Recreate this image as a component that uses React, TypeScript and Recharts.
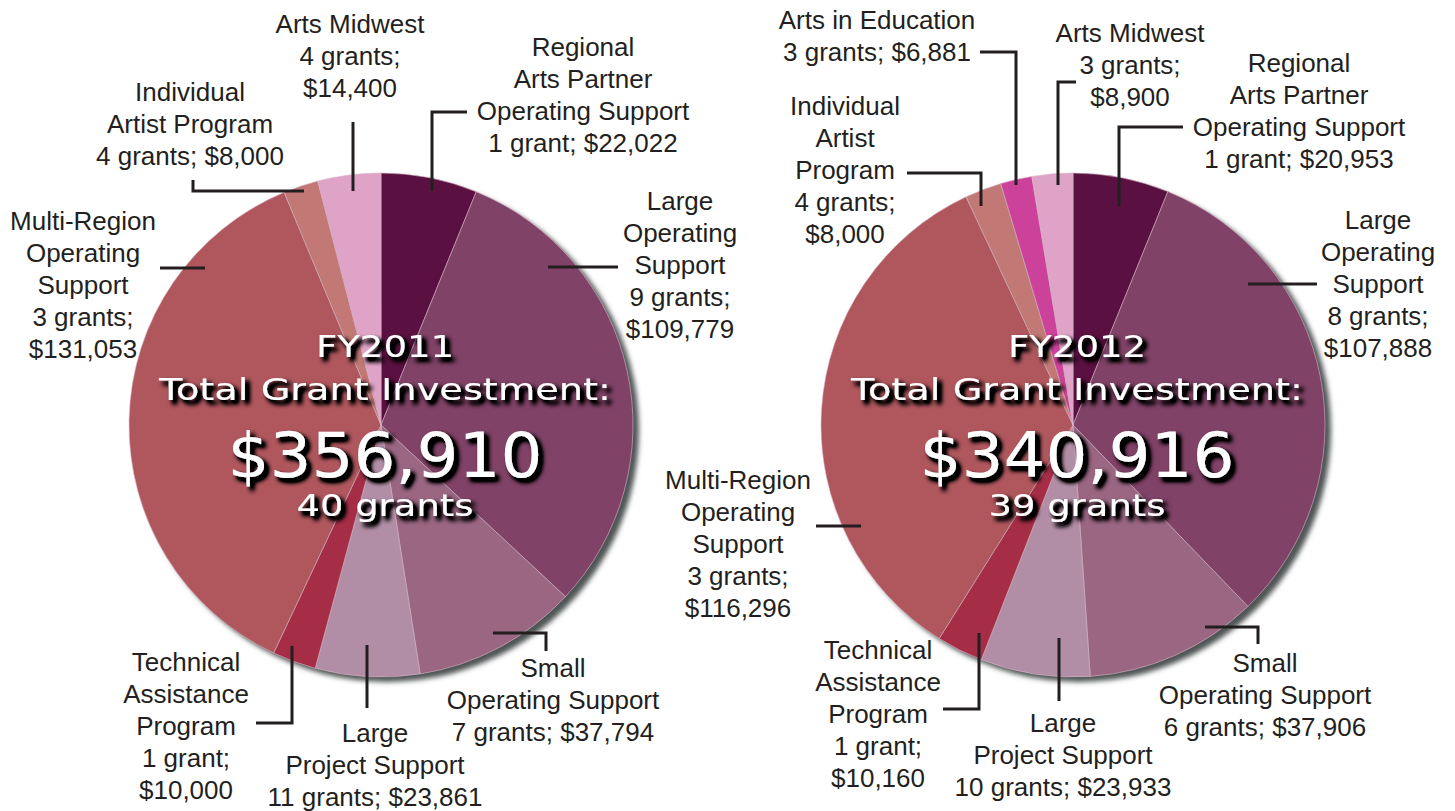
import React from 'react';
import { PieChart, Pie, Cell } from 'recharts';

// grant categories, clockwise from 12 o'clock
const categories2011 = [
  'Regional Arts Partner Operating Support',
  'Large Operating Support',
  'Small Operating Support',
  'Large Project Support',
  'Technical Assistance Program',
  'Multi-Region Operating Support',
  'Individual Artist Program',
  'Arts Midwest',
];
const grants2011 = [1, 9, 7, 11, 1, 3, 4, 4];
const amounts2011 = [22022, 109779, 37794, 23861, 10000, 131053, 8000, 14400];

const categories2012 = [
  'Regional Arts Partner Operating Support',
  'Large Operating Support',
  'Small Operating Support',
  'Large Project Support',
  'Technical Assistance Program',
  'Multi-Region Operating Support',
  'Individual Artist Program',
  'Arts in Education',
  'Arts Midwest',
];
const grants2012 = [1, 8, 6, 10, 1, 3, 4, 3, 3];
const amounts2012 = [20953, 107888, 37906, 23933, 10160, 116296, 8000, 6881, 8900];

const fiscalYears = ['FY2011', 'FY2012'];
const totalInvestment = [356910, 340916];
const totalGrants = [40, 39];

const COLORS: Record<string, string> = {
  'Regional Arts Partner Operating Support': '#5a1040',
  'Large Operating Support': '#804266',
  'Small Operating Support': '#9a6682',
  'Large Project Support': '#b28ea6',
  'Technical Assistance Program': '#a52d46',
  'Multi-Region Operating Support': '#b0575d',
  'Individual Artist Program': '#c27874',
  'Arts in Education': '#cc4199',
  'Arts Midwest': '#e0a3c8',
};

const W = 1455;
const H = 811;
const RADIUS = 252;
const CENTERS = [
  { cx: 381, cy: 425 },
  { cx: 1073, cy: 425 },
];

type LabelLayout = {
  lines: string[];
  split: boolean; // grants and amount on separate lines
  tx: number; // label centre x, relative to pie centre
  ty: number; // first line centre y, relative to pie centre
  path: [number, number][]; // leader line, relative to pie centre
};

const layout2011: Record<string, LabelLayout> = {
  'Regional Arts Partner Operating Support': {
    lines: ['Regional', 'Arts Partner', 'Operating Support'], split: false, tx: 202, ty: -378,
    path: [[86, -313], [51, -313], [51, -234]],
  },
  'Large Operating Support': {
    lines: ['Large', 'Operating', 'Support'], split: true, tx: 299, ty: -224,
    path: [[167, -158], [237, -158]],
  },
  'Small Operating Support': {
    lines: ['Small', 'Operating Support'], split: false, tx: 172, ty: 243,
    path: [[112, 208], [165, 208], [165, 226]],
  },
  'Large Project Support': {
    lines: ['Large', 'Project Support'], split: false, tx: -6, ty: 308,
    path: [[-14, 220], [-14, 283]],
  },
  'Technical Assistance Program': {
    lines: ['Technical', 'Assistance', 'Program'], split: true, tx: -195, ty: 237,
    path: [[-89, 221], [-89, 298], [-125, 298]],
  },
  'Multi-Region Operating Support': {
    lines: ['Multi-Region', 'Operating', 'Support'], split: true, tx: -298, ty: -204,
    path: [[-221, -157], [-176, -157]],
  },
  'Individual Artist Program': {
    lines: ['Individual', 'Artist Program'], split: false, tx: -191, ty: -333,
    path: [[-188, -245], [-188, -234], [-77, -234]],
  },
  'Arts Midwest': {
    lines: ['Arts Midwest'], split: true, tx: -31, ty: -401,
    path: [[-28, -303], [-28, -234]],
  },
};

const layout2012: Record<string, LabelLayout> = {
  'Regional Arts Partner Operating Support': {
    lines: ['Regional', 'Arts Partner', 'Operating Support'], split: false, tx: 226, ty: -362,
    path: [[110, -298], [46, -298], [46, -219]],
  },
  'Large Operating Support': {
    lines: ['Large', 'Operating', 'Support'], split: true, tx: 305, ty: -205,
    path: [[175, -141], [244, -141]],
  },
  'Small Operating Support': {
    lines: ['Small', 'Operating Support'], split: false, tx: 192, ty: 238,
    path: [[132, 202], [185, 202], [185, 219]],
  },
  'Large Project Support': {
    lines: ['Large', 'Project Support'], split: false, tx: -10, ty: 298,
    path: [[-14, 213], [-14, 276]],
  },
  'Technical Assistance Program': {
    lines: ['Technical', 'Assistance', 'Program'], split: true, tx: -195, ty: 225,
    path: [[-94, 208], [-94, 284], [-130, 284]],
  },
  'Multi-Region Operating Support': {
    lines: ['Multi-Region', 'Operating', 'Support'], split: true, tx: -335, ty: 55,
    path: [[-257, 101], [-212, 101]],
  },
  'Individual Artist Program': {
    lines: ['Individual', 'Artist', 'Program'], split: true, tx: -228, ty: -319,
    path: [[-166, -252], [-92, -252], [-92, -219]],
  },
  'Arts in Education': {
    lines: ['Arts in Education'], split: false, tx: -196, ty: -405,
    path: [[-93, -373], [-57, -373], [-57, -240]],
  },
  'Arts Midwest': {
    lines: ['Arts Midwest'], split: true, tx: 57, ty: -392,
    path: [[3, -343], [-15, -343], [-15, -240]],
  },
};

const data2011 = categories2011.map((name, i) => ({ name, value: amounts2011[i], grants: grants2011[i] }));
const data2012 = categories2012.map((name, i) => ({ name, value: amounts2012[i], grants: grants2012[i] }));

const money = (v: number) => '$' + v.toLocaleString('en-US');
const grantText = (g: number) => `${g} grant${g === 1 ? '' : 's'};`;

const LABEL_FONT = '"Liberation Sans", Arial, sans-serif';
const CENTER_FONT = '"DejaVu Sans", sans-serif';
const LINE_H = 32;

// baseline offsets, font sizes and widths for the centre text block
const centerRows = [
  { dy: -68, size: 31, len: 138 },
  { dy: -25, size: 30, len: 452 },
  { dy: 52, size: 62, len: 315 },
  { dy: 91, size: 30, len: 177 },
];

const CenterBlock = ({ cx, cy, idx }: { cx: number; cy: number; idx: number }) => {
  const texts = [
    fiscalYears[idx],
    'Total Grant Investment:',
    money(totalInvestment[idx]),
    `${totalGrants[idx]} grants`,
  ];
  return (
    <g filter="url(#centerTextShadow)">
      {texts.map((t, i) => (
        <text
          key={i}
          x={cx + 4}
          y={cy + centerRows[i].dy}
          textAnchor="middle"
          fill="#fff"
          fontFamily={CENTER_FONT}
          fontSize={centerRows[i].size}
          textLength={centerRows[i].len}
          lengthAdjust="spacingAndGlyphs"
        >
          {t}
        </text>
      ))}
    </g>
  );
};

const makeLabel = (layout: Record<string, LabelLayout>, idx: number) => (props: any) => {
  const { cx, cy, index } = props;
  const name = props.name ?? props.payload?.name;
  const item = layout[name];
  const entry = props.payload ?? props;
  if (!item) return null;
  const counts = item.split
    ? [grantText(entry.grants), money(entry.value)]
    : [`${grantText(entry.grants)} ${money(entry.value)}`];
  const lines = [...item.lines, ...counts];
  const pts = item.path.map(([x, y]) => `${cx + x},${cy + y}`).join(' ');
  return (
    <g key={`lbl-${idx}-${index}`}>
      {index === 0 && <CenterBlock cx={cx} cy={cy} idx={idx} />}
      <polyline points={pts} fill="none" stroke="#231f20" strokeWidth={3} />
      {lines.map((l, i) => (
        <text
          key={i}
          x={cx + item.tx}
          y={cy + item.ty + i * LINE_H}
          textAnchor="middle"
          dominantBaseline="central"
          fill="#231f20"
          fontFamily={LABEL_FONT}
          fontSize={26}
        >
          {l}
        </text>
      ))}
    </g>
  );
};

const shadowData = [{ name: 'shadow', value: 1 }];

export default function App() {
  return (
    <div style={{ position: 'absolute', left: 0, top: 0, width: W, height: H, background: '#fff' }}>
      <PieChart width={W} height={H} margin={{ top: 0, right: 0, bottom: 0, left: 0 }}>
        <defs>
          <filter id="pieShadowBlur" x="-10%" y="-10%" width="120%" height="120%">
            <feGaussianBlur stdDeviation="2.5" />
          </filter>
          <filter id="centerTextShadow" x="-20%" y="-30%" width="140%" height="160%">
            <feGaussianBlur in="SourceAlpha" stdDeviation="2.6" result="blur" />
            <feOffset in="blur" dx="4" dy="4" result="off" />
            <feComponentTransfer in="off" result="dark">
              <feFuncA type="linear" slope="2.2" />
            </feComponentTransfer>
            <feMerge>
              <feMergeNode in="dark" />
              <feMergeNode in="SourceGraphic" />
            </feMerge>
          </filter>
        </defs>
        {CENTERS.map((c, i) => (
          <Pie
            key={`shadow-${i}`}
            data={shadowData}
            dataKey="value"
            cx={c.cx + 6}
            cy={c.cy + 5}
            outerRadius={RADIUS}
            startAngle={90}
            endAngle={-270}
            stroke="none"
            isAnimationActive={false}
          >
            <Cell fill="#505454" filter="url(#pieShadowBlur)" />
          </Pie>
        ))}
        <Pie
          data={data2011}
          dataKey="value"
          nameKey="name"
          cx={CENTERS[0].cx}
          cy={CENTERS[0].cy}
          outerRadius={RADIUS}
          startAngle={90}
          endAngle={-270}
          stroke="#d9b9c9"
          strokeWidth={0.6}
          isAnimationActive={false}
          labelLine={false}
          label={makeLabel(layout2011, 0)}
        >
          {data2011.map((d) => (
            <Cell key={d.name} fill={COLORS[d.name]} />
          ))}
        </Pie>
        <Pie
          data={data2012}
          dataKey="value"
          nameKey="name"
          cx={CENTERS[1].cx}
          cy={CENTERS[1].cy}
          outerRadius={RADIUS}
          startAngle={90}
          endAngle={-270}
          stroke="#d9b9c9"
          strokeWidth={0.6}
          isAnimationActive={false}
          labelLine={false}
          label={makeLabel(layout2012, 1)}
        >
          {data2012.map((d) => (
            <Cell key={d.name} fill={COLORS[d.name]} />
          ))}
        </Pie>
      </PieChart>
    </div>
  );
}
